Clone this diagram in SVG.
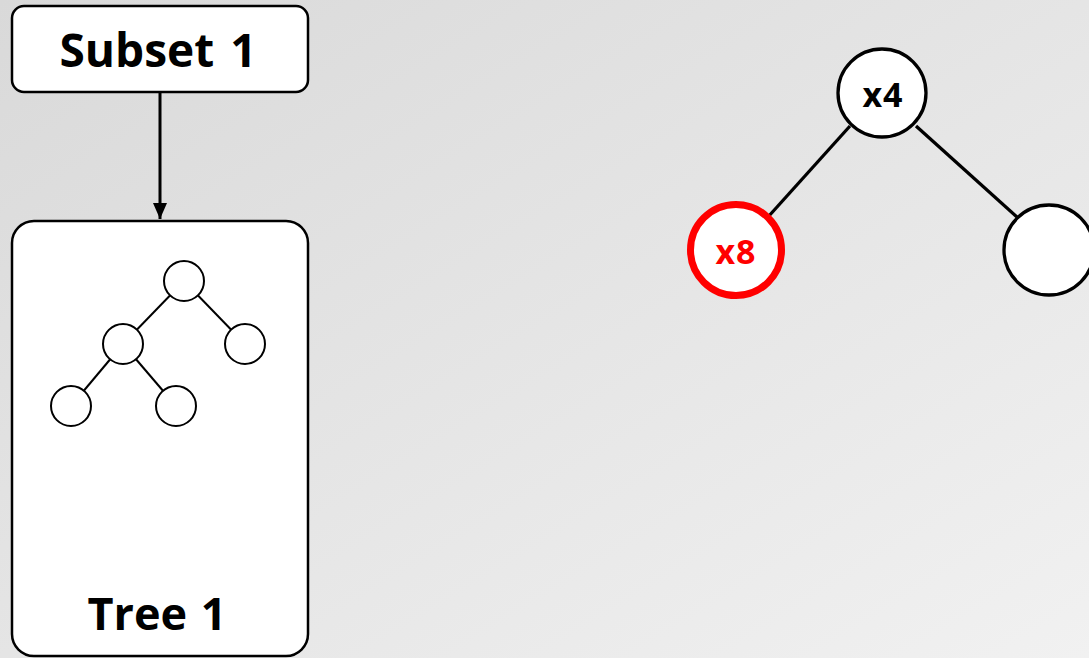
<svg xmlns="http://www.w3.org/2000/svg" width="1089" height="658" viewBox="0 0 1089 658">
  <defs>
    <linearGradient id="bg" x1="0" y1="0" x2="1" y2="1">
      <stop offset="0" stop-color="#d9d9d9"/>
      <stop offset="1" stop-color="#f1f1f1"/>
    </linearGradient>
    <marker id="arrow" markerWidth="16" markerHeight="14" refX="16" refY="7" orient="auto" markerUnits="userSpaceOnUse">
      <path d="M0,0 L16,7 L0,14 Z" fill="#000"/>
    </marker>
  </defs>
  <style>
    .box { fill: #fff; stroke: #000; stroke-width: 2.5; }
    .label { font-family: "Open Sans", "Noto Sans", "Liberation Sans", sans-serif; font-weight: bold; text-anchor: middle; }
    .title { font-size: 46px; word-spacing: 4px; }
    .tree-title { font-size: 45px; word-spacing: 2px; }
    .tag { font-size: 34px; letter-spacing: 1px; }
    .mini { fill: #fff; stroke: #000; stroke-width: 2; }
    .mini-edge { stroke: #000; stroke-width: 2; }
    .node { fill: #fff; stroke: #000; stroke-width: 3.3; }
    .edge { stroke: #000; stroke-width: 3.3; }
  </style>
  <rect width="1089" height="658" fill="url(#bg)"/>

  <!-- connectors -->
  <g id="connectors">
    <line x1="160" y1="92" x2="160" y2="219" stroke="#000" stroke-width="3" marker-end="url(#arrow)"/>
    <line class="edge" x1="850" y1="126" x2="768" y2="217"/>
    <line class="edge" x1="916" y1="126" x2="1017" y2="217"/>
  </g>

  <g id="subset1">
    <rect class="box" x="12" y="6" width="296" height="86" rx="12"/>
    <text class="label title" x="158" y="67">Subset 1</text>
  </g>

  <g id="tree1">
    <rect class="box" x="12" y="221" width="296" height="435" rx="22"/>
    <!-- miniature tree -->
    <line class="mini-edge" x1="184" y1="281" x2="123" y2="344"/>
    <line class="mini-edge" x1="184" y1="281" x2="245" y2="344"/>
    <line class="mini-edge" x1="123" y1="344" x2="71" y2="406"/>
    <line class="mini-edge" x1="123" y1="344" x2="176" y2="406"/>
    <circle class="mini" cx="184" cy="281" r="20"/>
    <circle class="mini" cx="123" cy="344" r="20"/>
    <circle class="mini" cx="245" cy="344" r="20"/>
    <circle class="mini" cx="71" cy="406" r="20"/>
    <circle class="mini" cx="176" cy="406" r="20"/>
    <text class="label tree-title" x="157" y="630">Tree 1</text>
  </g>

  <g id="node-x4">
    <circle class="node" cx="882" cy="93" r="44"/>
    <text class="label tag" x="883" y="107">x4</text>
  </g>

  <g id="node-x8">
    <circle cx="736" cy="250" r="45.5" fill="#fff" stroke="#ff0000" stroke-width="7"/>
    <text class="label tag" x="736" y="264" fill="#ff0000">x8</text>
  </g>

  <g id="node-right">
    <circle class="node" cx="1049" cy="250" r="45"/>
  </g>
</svg>
